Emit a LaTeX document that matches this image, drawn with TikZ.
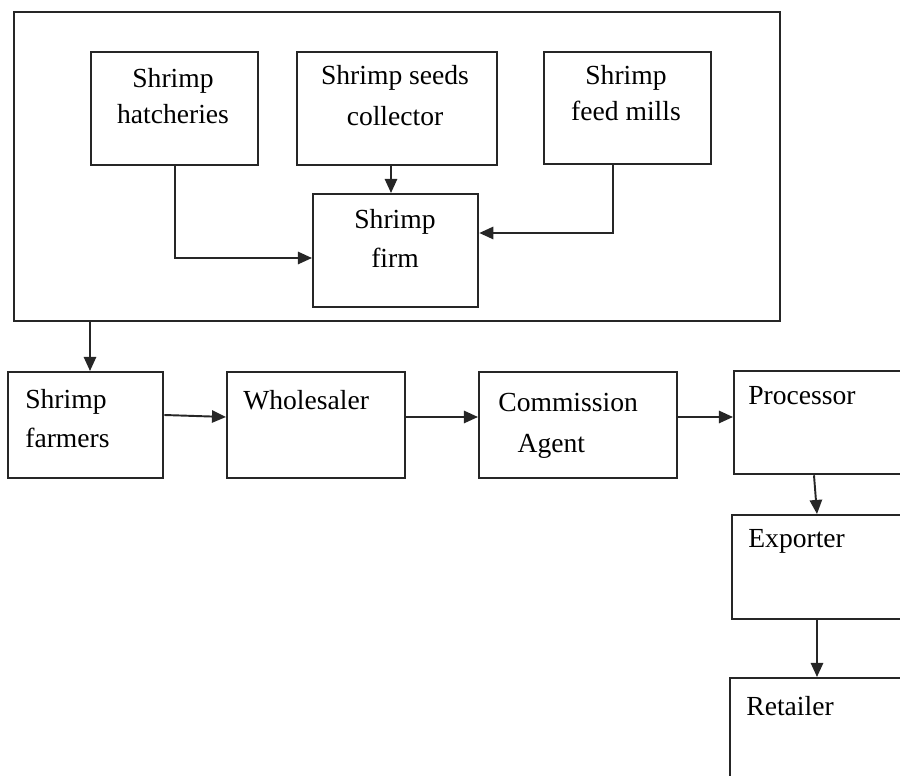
\documentclass[tikz,border=0pt]{standalone}
\usepackage{fontspec}
\setmainfont{Liberation Serif}
\usetikzlibrary{arrows.meta}

\begin{document}
\begin{tikzpicture}[x=0.02cm,y=-0.02cm,
            box/.style 2 args={draw=black!85, line width=1.3pt, inner sep=0pt, anchor=north west,
                minimum width=#1*0.02cm, minimum height=#2*0.02cm},
            lbl/.style={inner sep=0pt, font=\fontsize{15.7}{20.5}\selectfont, align=center, anchor=base},
            lbll/.style={lbl, align=left, anchor=base west},
            arr/.style={draw=black!85, line width=1.1pt, -{Triangle[length=8pt,width=7pt]}}]
        \clip (0,0) rectangle (900,776);

        % supply side, inside the frame
        \node[box={766}{309}] (frame) at (13,11) {};
        \node[box={167}{113}] (hatch) at (90,51) {};
        \node[box={200}{113}] (seeds) at (296,51) {};
        \node[box={167}{112}] (feed) at (543,51) {};
        \node[box={165}{113}] (firm) at (312,193) {};

        % base anchor = last line
        \node[lbl] (hatch-t) at (173,124) {Shrimp\\hatcheries};
        \node[lbl] (seeds-t) at (395,126) {Shrimp seeds\\[3pt]collector};
        \node[lbl] (feed-t) at (626,121) {Shrimp\\feed mills};
        \node[lbl] (firm-t) at (395,268) {Shrimp\\[2pt]firm};

        \draw[arr] (hatch.south) |- (firm.west |- 0,258);
        \draw[arr] (seeds.south -| 391,0) -- (firm.north -| 391,0);
        \draw[arr] (feed.south -| 613,0) |- (firm.east |- 0,233);

        % marketing chain
        \node[box={155}{106}] (farmers) at (7,371) {};
        \node[box={178}{106}] (whole) at (226,371) {};
        \node[box={198}{106}] (agent) at (478,371) {};
        \node[box={200}{103}] (proc) at (733,370) {};
        \node[box={200}{104}] (export) at (731,514) {};
        \node[box={200}{150}] (retail) at (729,677) {};

        \node[lbll] (farmers-t) at (25,448) {Shrimp\\[2pt]farmers};
        \node[lbll] (whole-t) at (243,410) {Wholesaler};
        \node[lbll] (agent-t) at (498,453) {Commission\\[3pt]\hspace*{11pt}Agent};
        \node[lbll] (proc-t) at (748,405) {Processor};
        \node[lbll] (export-t) at (748,548) {Exporter};
        \node[lbll] (retail-t) at (746,716) {Retailer};

        \draw[arr] (frame.south -| 90,0) -- (farmers.north -| 90,0);
        \draw[arr] (farmers.east |- 0,415) -- (whole.west |- 0,417);
        \draw[arr] (whole.east |- 0,417) -- (agent.west |- 0,417);
        \draw[arr] (agent.east |- 0,417) -- (proc.west |- 0,417);
        \draw[arr] (proc.south -| 814,0) -- (export.north -| 817,0);
        \draw[arr] (export.south -| 817,0) -- (retail.north -| 817,0);
    \end{tikzpicture}
\end{document}
